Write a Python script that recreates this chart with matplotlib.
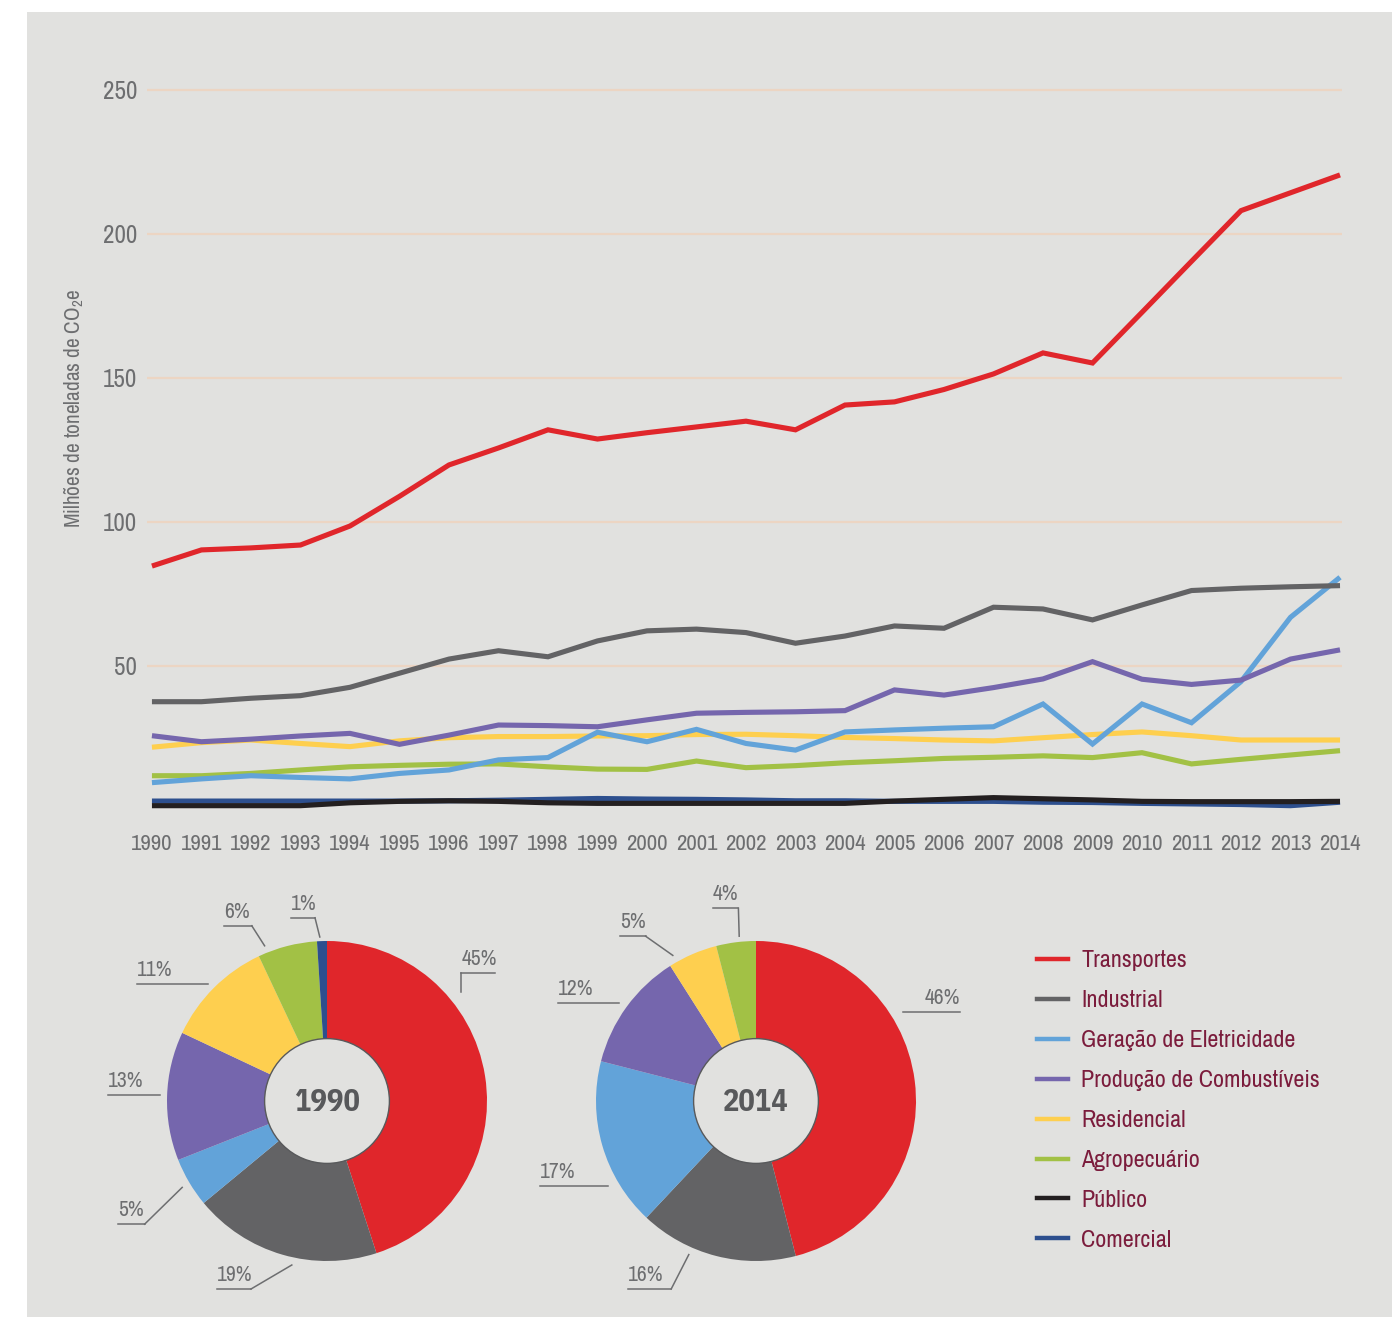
""" Emissões de CO2e por setor, 1990-2014: série temporal e participação (rosca). """

import matplotlib.pyplot as plt
from matplotlib.lines import Line2D
from matplotlib.patches import Circle, Rectangle

plt.rcParams['font.family'] = ['Archivo Narrow', 'DejaVu Sans']
plt.rcParams['mathtext.fontset'] = 'custom'
plt.rcParams['mathtext.rm'] = 'Archivo Narrow'

years = list(range(1990, 2015))

sectors = ['Transportes', 'Industrial', 'Geração de Eletricidade', 'Produção de Combustíveis',
           'Residencial', 'Agropecuário', 'Público', 'Comercial']

transportes = [84.7, 90.3, 91.0, 92.0, 98.6, 108.9, 119.8, 125.7, 132.0, 128.8, 131.0, 133.0, 135.0,
               132.0, 140.6, 141.7, 146.0, 151.4, 158.7, 155.2, 172.8, 190.5, 208.1, 214.3, 220.5]
industrial = [37.6, 37.6, 38.8, 39.7, 42.6, 47.5, 52.4, 55.3, 53.2, 58.7, 62.2, 62.8, 61.6,
              57.9, 60.4, 63.9, 63.1, 70.4, 69.8, 66.0, 71.2, 76.2, 77.0, 77.5, 77.9]
geracao = [9.5, 10.8, 11.9, 11.3, 10.8, 12.7, 13.9, 17.4, 18.2, 27.0, 23.7, 28.0, 23.1,
           20.8, 27.1, 27.8, 28.4, 28.9, 36.8, 22.9, 36.8, 30.3, 44.6, 66.9, 80.8]
producao = [25.8, 23.7, 24.6, 25.7, 26.6, 22.8, 26.0, 29.5, 29.3, 28.9, 31.3, 33.6, 33.9,
            34.1, 34.5, 41.7, 39.9, 42.5, 45.5, 51.5, 45.4, 43.6, 45.1, 52.4, 55.6]
residencial = [21.8, 23.4, 24.3, 23.1, 22.0, 24.0, 25.1, 25.5, 25.5, 25.7, 25.8, 26.2, 26.3,
               25.8, 25.2, 24.8, 24.3, 24.0, 25.1, 26.2, 27.1, 25.8, 24.3, 24.3, 24.3]
agropecuario = [11.9, 11.9, 12.7, 13.9, 15.0, 15.5, 15.9, 16.0, 15.0, 14.2, 14.1, 17.0, 14.7,
                15.4, 16.4, 17.1, 17.9, 18.3, 18.8, 18.2, 19.9, 16.0, 17.6, 19.1, 20.6]
publico = [1.5, 1.5, 1.5, 1.5, 2.5, 3.0, 3.2, 3.0, 2.5, 2.3, 2.3, 2.3, 2.3,
           2.3, 2.3, 3.1, 3.7, 4.3, 3.9, 3.5, 3.0, 2.9, 2.9, 2.9, 3.0]
comercial = [3.1, 3.1, 3.1, 3.1, 3.1, 3.1, 3.2, 3.4, 3.7, 4.0, 3.8, 3.7, 3.5,
             3.2, 3.2, 3.0, 3.0, 3.0, 2.7, 2.6, 2.3, 2.1, 1.9, 1.5, 2.7]

# participação (%) por setor, mesma ordem de `sectors`
share_1990 = [45, 19, 5, 13, 11, 6, 0, 1]
share_2014 = [46, 16, 17, 12, 5, 4, 0, 0]

colors = ['#e0262b', '#636365', '#62a3d9', '#7566ad', '#fecf4f', '#a2c145', '#231f20', '#2d4f8e']
BG = '#e1e1df'
GREY_TXT = '#6d6e70'
LEGEND_TXT = '#7b1c3c'

W, H = 1392, 1317

# posição dos rótulos das roscas (x0, x1, y da linha, alinhamento, ponta do traço)
labels_1990 = [(0.84, 1.05, 0.80, 'left', (0.84, 0.68)),
               (-0.69, -0.475, -1.175, 'left', (-0.22, -1.025)),
               (-1.305, -1.14, -0.77, 'left', (-0.905, -0.54)),
               (-1.37, -1.045, 0.04, 'left', None),
               (-1.19, -0.745, 0.73, 'left', None),
               (-0.645, -0.47, 1.095, 'left', (-0.39, 0.97)),
               (-0.225, -0.075, 1.145, 'left', (-0.045, 1.025))]
labels_2014 = [(0.92, 1.275, 0.555, 'right', None),
               (-0.80, -0.53, -1.175, 'left', (-0.42, -0.96)),
               (-1.35, -0.925, -0.53, 'left', None),
               (-1.24, -0.855, 0.61, 'left', None),
               (-0.85, -0.69, 1.03, 'left', (-0.52, 0.91)),
               (-0.27, -0.11, 1.205, 'left', (-0.105, 1.03))]


def px_axes(fig, left, top, right, bottom):
    return fig.add_axes([left / W, 1 - bottom / H, (right - left) / W, (bottom - top) / H])


def plot_lines(fig):
    ax = px_axes(fig, 147, 60, 1342, 810)
    ax.set_facecolor('none')
    series = dict(zip(sectors, [transportes, industrial, geracao, producao,
                                residencial, agropecuario, publico, comercial]))
    draw_order = ['Residencial', 'Agropecuário', 'Comercial', 'Público',
                  'Geração de Eletricidade', 'Produção de Combustíveis', 'Industrial', 'Transportes']
    for name in draw_order:
        ax.plot(years, series[name], color=colors[sectors.index(name)], lw=3.7,
                solid_joinstyle='miter', solid_capstyle='butt')

    ax.set_xlim(1989.9, 2014.04)
    ax.set_ylim(0, 260.4)
    ax.set_xticks(years)
    ax.set_yticks([50, 100, 150, 200, 250])
    ax.grid(axis='y', color='#ecd5c3', lw=1.6)
    ax.set_axisbelow(True)
    for s in ax.spines.values():
        s.set_visible(False)
    ax.tick_params(axis='both', length=0, colors=GREY_TXT)
    ax.tick_params(axis='x', labelsize=16.5, pad=17)
    ax.tick_params(axis='y', labelsize=18, pad=7)
    ax.set_ylabel('Milhões de toneladas de CO$_2$e', fontsize=15.3, color=GREY_TXT)
    ax.yaxis.set_label_coords(-0.051, 0.535)


def plot_donut(fig, cx, shares, year, layout):
    ax = px_axes(fig, cx - 232, 1101 - 248, cx + 232, 1101 + 216)
    ax.set_axis_off()

    vals = [v for v in shares if v > 0]
    cols = [c for v, c in zip(shares, colors) if v > 0]
    ax.pie(vals, colors=cols, startangle=90, counterclock=False, radius=1.0,
           wedgeprops=dict(linewidth=0))
    ax.set_xlim(-1.45, 1.45)
    ax.set_ylim(-1.35, 1.55)
    ax.set_aspect('equal')
    ax.add_patch(Circle((0, 0), 0.39, facecolor=BG, edgecolor='#58595b', lw=1.0, zorder=5))
    ax.text(0, -0.01, str(year), ha='center', va='center', fontsize=22, fontweight='bold',
            family=['IBM Plex Sans Condensed', 'DejaVu Sans'], color='#58595b', zorder=6)

    for v, (x0, x1, y, ha, tip) in zip(vals, layout):
        ax.plot([x0, x1], [y, y], color=GREY_TXT, lw=1.1, clip_on=False)
        if tip is not None:
            start = (x0, y) if x0 > 0 else (x1, y)
            ax.plot([start[0], tip[0]], [start[1], tip[1]], color=GREY_TXT, lw=1.1, clip_on=False)
        tx = x0 if ha == 'left' else x1
        ax.text(tx, y + 0.05, f'{v}%', ha=ha, va='baseline', fontsize=15.5, color=GREY_TXT)


def main():
    fig = plt.figure(figsize=(W / 100, H / 100), dpi=100, facecolor='white')
    fig.patches.append(Rectangle((27 / W, 0), 1 - 27 / W, 1 - 12 / H, transform=fig.transFigure,
                                 facecolor=BG, edgecolor='none', zorder=-10))

    plot_lines(fig)
    plot_donut(fig, 327, share_1990, 1990, labels_1990)
    plot_donut(fig, 756, share_2014, 2014, labels_2014)

    handles = [Line2D([], [], color=c, lw=3.2) for c in colors]
    leg = fig.legend(handles, sectors, loc='upper left', bbox_to_anchor=(1037 / W, 1 - 950 / H),
                     frameon=False, fontsize=17.3, handlelength=1.3, handletextpad=0.55,
                     labelspacing=0.79, borderpad=0, borderaxespad=0)
    for t in leg.get_texts():
        t.set_color(LEGEND_TXT)

    fig.savefig('out.png', dpi=100, facecolor=fig.get_facecolor())


if __name__ == "__main__":
    main()
